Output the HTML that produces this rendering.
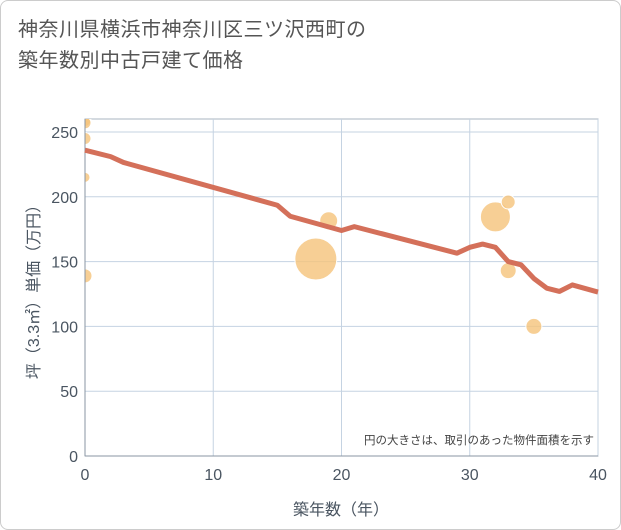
<!DOCTYPE html>
<html><head><meta charset="utf-8"><style>
body{margin:0;background:#fff;}
#wrap{position:relative;width:619px;height:528px;border:1px solid #ccc;border-radius:8px;overflow:hidden;background:#fff;font-family:"Liberation Sans","Noto Sans CJK JP",sans-serif;}
#title{position:absolute;left:17px;top:14px;font-size:20px;line-height:31px;color:#555;letter-spacing:0.5px}
svg{position:absolute;left:0;top:0}
</style></head><body>
<div id="wrap">
<div id="title">神奈川県横浜市神奈川区三ツ沢西町の<br>築年数別中古戸建て価格</div>
<svg id="c" width="621" height="530"><defs><clipPath id="pc"><rect x="84" y="118" width="513" height="337"/></clipPath></defs></svg>
</div>
<script>
const xTicks=[0,10,20,30,40];
const yTicks=[0,50,100,150,200,250];
const lineYears=[0,2,3,15,16,20,21,29,30,31,32,33,34,35,36,37,38,40];
const lineValues=[236,231,226.5,193.5,185,174,177,156.5,161,163.5,161,150,147.5,137,129.5,127,132,126.5];
const bubbleYears=[0,0,0,0,0,18,19,32,33,33,35];
const bubbleValues=[259,257,245,215,139,152,181.5,184.5,196,143,100];
const bubbleRadius=[6,6,6,5,7,21,9,15,7,8,8];
const NS="http://www.w3.org/2000/svg";
const svg=document.getElementById('c');
const X0=84,X1=597,Y0=455,Y1=131;
const xs=v=>X0+(v/40)*(X1-X0);
const ys=v=>Y0-(v/250)*(Y0-Y1);
function mk(t,a,p){const e=document.createElementNS(NS,t);for(const k in a)e.setAttribute(k,a[k]);(p||svg).appendChild(e);return e;}
const bg=mk('rect',{x:X0,y:118,width:X1-X0,height:Y0-118,fill:'#fff',stroke:'#aab4c0'});


xTicks.forEach(t=>{const l=mk('line',{x1:xs(t),x2:xs(t),y1:118,y2:Y0,stroke:'#c5d3e2'});


const tx=mk('text',{x:xs(t),y:479,'text-anchor':'middle','font-size':16,fill:'#4a5561'});tx.textContent=t;

});
yTicks.forEach(t=>{const l=mk('line',{x1:X0,x2:X1,y1:ys(t),y2:ys(t),stroke:'#c5d3e2'});


const tx=mk('text',{x:77,y:ys(t)+6,'text-anchor':'end','font-size':16,fill:'#4a5561'});tx.textContent=t;

});
const g=mk('g',{'clip-path':'url(#pc)'});


bubbleYears.forEach((y,i)=>{const c=mk('circle',{cx:xs(y),cy:ys(bubbleValues[i]),r:bubbleRadius[i],fill:'#f5c37a','fill-opacity':0.8,stroke:'#fff','stroke-width':1},g);

});
mk('line',{x1:X0,x2:X0,y1:118,y2:Y0,stroke:'#8a96a3'});
mk('line',{x1:X0,x2:X1,y1:Y0,y2:Y0,stroke:'#8a96a3'});
const pl=mk('polyline',{points:lineYears.map((y,i)=>xs(y)+','+ys(lineValues[i])).join(' '),fill:'none',stroke:'#d4705a','stroke-width':5,'stroke-linejoin':'round'});


const note=mk('text',{x:593,y:443,'text-anchor':'end','font-size':11.5,fill:'#444'});note.textContent='円の大きさは、取引のあった物件面積を示す';


const xt=mk('text',{x:340,y:514,'text-anchor':'middle','font-size':16,fill:'#4a5561'});xt.textContent='築年数（年）';


const yt=mk('text',{x:0,y:0,'text-anchor':'middle','font-size':16,fill:'#4a5561',transform:'translate(38,287) rotate(-90)'});yt.textContent='坪（3.3㎡）単価（万円）';


</script>
</body></html>
